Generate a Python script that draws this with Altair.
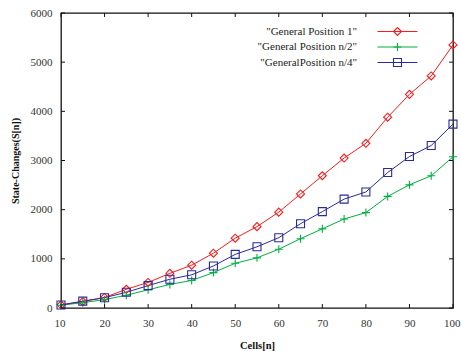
import altair as alt
import pandas as pd

cells = [10, 15, 20, 25, 30, 35, 40, 45, 50, 55, 60, 65, 70, 75, 80, 85, 90, 95, 100]
pos_1 = [65, 130, 215, 380, 520, 705, 870, 1115, 1420, 1655, 1950, 2320, 2690, 3050, 3350, 3880, 4345, 4720, 5350]
pos_half = [55, 110, 170, 260, 370, 480, 560, 720, 910, 1020, 1195, 1410, 1610, 1810, 1940, 2270, 2505, 2690, 3075]
pos_quarter = [60, 140, 210, 320, 455, 585, 675, 855, 1090, 1245, 1430, 1715, 1960, 2215, 2360, 2755, 3080, 3305, 3740]

names = ['"General Position 1"', '"General Position n/2"', '"GeneralPosition n/4"']
colors = ["#ff1a1a", "#00b040", "#2a2a9a"]
plus_path = "M-1,0H1M0,-1V1"
shapes = ["diamond", plus_path, "square"]

x_ticks = [10, 20, 30, 40, 50, 60, 70, 80, 90, 100]
y_ticks = [0, 1000, 2000, 3000, 4000, 5000, 6000]

W, H = 392, 295
FONT = "Liberation Serif"

rows = []
for name, vals in zip(names, [pos_1, pos_half, pos_quarter]):
    for c, v in zip(cells, vals):
        rows.append({"cells": c, "value": v, "series": name})
df = pd.DataFrame(rows)
xt = pd.DataFrame({"cells": x_ticks})
yt = pd.DataFrame({"t": y_ticks})
leg = pd.DataFrame({"series": names})

xs = alt.Scale(domain=[10, 100], nice=False, zero=False)
ys = alt.Scale(domain=[0, 6000], nice=False, zero=False)
cs = alt.Scale(domain=names, range=colors)
ss = alt.Scale(domain=names, range=shapes)

x_axis = alt.Axis(values=x_ticks, format="d", ticks=False, domain=False, grid=False,
                  labelFlush=True, labelFlushOffset=7, labelOverlap=False,
                  labelFont=FONT, labelFontSize=11, labelColor="#333",
                  labelPadding=9, titleFont=FONT, titleFontSize=10.5,
                  titleFontWeight="bold", titleColor="#111", titlePadding=12)
X = alt.X("cells:Q", scale=xs, title="Cells[n]", axis=x_axis)

base = alt.Chart(df)
lines = base.mark_line(strokeWidth=1).encode(
    x=X,
    y=alt.Y("value:Q", scale=ys, title="State-Changes(S[n])",
            axis=alt.Axis(values=y_ticks, format="d", ticks=False, domain=False, grid=False,
                          labelFlush=False, labelOverlap=False,
                          labelFont=FONT, labelFontSize=11, labelColor="#333",
                          labelPadding=9, titleFont=FONT, titleFontSize=10,
                          titleFontWeight="bold", titleColor="#111", titlePadding=10)),
    color=alt.Color("series:N", scale=cs, legend=None),
    detail="series:N",
)
points = base.mark_point(filled=False, size=64, strokeWidth=1.1, opacity=1).encode(
    x=X,
    y=alt.Y("value:Q", scale=ys, axis=None),
    color=alt.Color("series:N", scale=cs, legend=None),
    shape=alt.Shape("series:N", scale=ss, legend=None),
)

tick_len = 4
bx = alt.Chart(xt).mark_rule(color="#111", strokeWidth=1).encode(
    x=X, y=alt.value(H), y2=alt.value(H - tick_len))
tx = alt.Chart(xt).mark_rule(color="#111", strokeWidth=1).encode(
    x=X, y=alt.value(0), y2=alt.value(tick_len))
ly = alt.Chart(yt).mark_rule(color="#111", strokeWidth=1).encode(
    y=alt.Y("t:Q", scale=ys, axis=None), x=alt.value(0), x2=alt.value(tick_len))
ry = alt.Chart(yt).mark_rule(color="#111", strokeWidth=1).encode(
    y=alt.Y("t:Q", scale=ys, axis=None), x=alt.value(W), x2=alt.value(W - tick_len))

ls = alt.Scale(type="point", domain=names, range=[18.5, 49.5], padding=0)
leg_text = alt.Chart(leg).mark_text(align="right", baseline="middle", font=FONT,
                                    fontSize=11, color="#222").encode(
    x=alt.value(296), y=alt.Y("series:N", scale=ls, axis=None), text="series:N")
leg_rule = alt.Chart(leg).mark_rule(strokeWidth=1).encode(
    x=alt.value(316.5), x2=alt.value(356.5), y=alt.Y("series:N", scale=ls, axis=None),
    color=alt.Color("series:N", scale=cs, legend=None))
leg_pt = alt.Chart(leg).mark_point(filled=False, size=64, strokeWidth=1.1, opacity=1).encode(
    x=alt.value(336.5), y=alt.Y("series:N", scale=ls, axis=None),
    color=alt.Color("series:N", scale=cs, legend=None),
    shape=alt.Shape("series:N", scale=ss, legend=None))

chart = alt.layer(lines, points, bx, tx, ly, ry, leg_text, leg_rule, leg_pt).resolve_scale(
    y="independent"
).properties(
    width=W, height=H,
    autosize=alt.AutoSizeParams(type="none"),
    padding={"left": 61, "top": 13, "right": 8, "bottom": 43},
    background="white",
).configure_view(stroke="#111", strokeWidth=1.3)

chart.save("out.html", embed_options={"renderer": "svg", "actions": False})
